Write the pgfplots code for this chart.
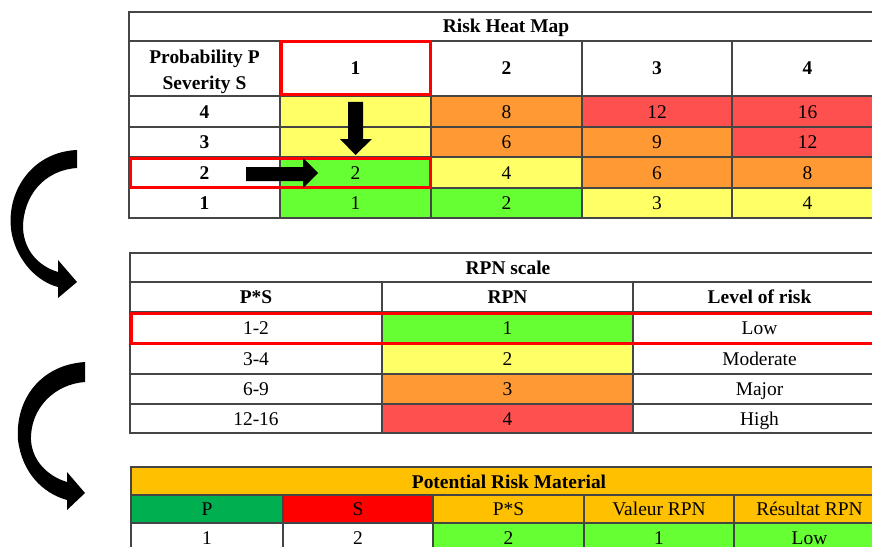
\documentclass[border=0pt]{standalone}
\usepackage{pgfplots}
\pgfplotsset{compat=1.18}
\usepackage{fontspec}
\setmainfont{Liberation Serif}
\definecolor{cG}{HTML}{66FF33}
\definecolor{cY}{HTML}{FFFF66}
\definecolor{cO}{HTML}{FF9933}
\definecolor{cR}{HTML}{FF5050}
\definecolor{gold}{HTML}{FFC000}
\definecolor{dg}{HTML}{00B050}
\definecolor{ln}{HTML}{454545}
\tikzset{
  t/.style={anchor=base,inner sep=0pt,font=\fontsize{19.5}{22}\selectfont},
  tb/.style={anchor=base,inner sep=0pt,font=\fontsize{19.5}{22}\selectfont\bfseries},
  gl/.style={draw=ln,line width=1.2bp},
  rb/.style={draw=red,line width=3bp},
}
% cell: x1 y1 x2 y2 colour
\newcommand{\cf}[5]{\fill[#5] (axis cs:#1,#2) rectangle (axis cs:#3,#4);}
% text at x, baseline y
\newcommand{\tx}[3]{\node[t] at (axis cs:#1,#2) {#3};}
\newcommand{\tb}[3]{\node[tb] at (axis cs:#1,#2) {#3};}
\begin{document}
\begin{tikzpicture}
\begin{axis}[
  width=872bp, height=547bp, scale only axis,
  xmin=0, xmax=872, ymin=0, ymax=547, y dir=reverse,
  hide axis, clip=true,
]
\path (axis cs:0,0) rectangle (axis cs:872,547);
% ================= Table 1: Risk Heat Map =================
% row 4 (96-127)
\cf{280}{96}{431}{127}{cY}
\cf{431}{96}{582}{127}{cO}
\cf{582}{96}{732}{127}{cR}
\cf{732}{96}{872}{127}{cR}
% row 3 (127-157)
\cf{280}{127}{431}{157}{cY}
\cf{431}{127}{582}{157}{cO}
\cf{582}{127}{732}{157}{cO}
\cf{732}{127}{872}{157}{cR}
% row 2 (157-188)
\cf{280}{157}{431}{188}{cG}
\cf{431}{157}{582}{188}{cY}
\cf{582}{157}{732}{188}{cO}
\cf{732}{157}{872}{188}{cO}
% row 1 (188-218)
\cf{280}{188}{431}{218}{cG}
\cf{431}{188}{582}{218}{cG}
\cf{582}{188}{732}{218}{cY}
\cf{732}{188}{872}{218}{cY}
% grid
\draw[gl] (axis cs:872,12) -- (axis cs:129,12) -- (axis cs:129,218) -- (axis cs:872,218);
\draw[gl] (axis cs:129,41) -- (axis cs:872,41);
\draw[gl] (axis cs:129,96) -- (axis cs:872,96);
\draw[gl] (axis cs:129,127) -- (axis cs:872,127);
\draw[gl] (axis cs:129,157) -- (axis cs:872,157);
\draw[gl] (axis cs:129,188) -- (axis cs:872,188);
\draw[gl] (axis cs:280,41) -- (axis cs:280,218);
\draw[gl] (axis cs:431,41) -- (axis cs:431,218);
\draw[gl] (axis cs:582,41) -- (axis cs:582,218);
\draw[gl] (axis cs:732,41) -- (axis cs:732,218);
% texts
\tb{506}{33}{Risk Heat Map}
\tb{204.5}{63.5}{Probability P}
\tb{204.5}{89.5}{Severity S}
\tb{355.5}{75}{1}
\tb{506.5}{75}{2}
\tb{657}{75}{3}
\tb{807.5}{75}{4}
\tb{204.5}{118}{4}
\tb{204.5}{148.5}{3}
\tb{204.5}{179}{2}
\tb{204.5}{209.5}{1}
\tx{506.5}{118}{8}
\tx{657}{118}{12}
\tx{807.5}{118}{16}
\tx{506.5}{148.5}{6}
\tx{657}{148.5}{9}
\tx{807.5}{148.5}{12}
\tx{355.5}{179}{2}
\tx{506.5}{179}{4}
\tx{657}{179}{6}
\tx{807.5}{179}{8}
\tx{355.5}{209.5}{1}
\tx{506.5}{209.5}{2}
\tx{657}{209.5}{3}
\tx{807.5}{209.5}{4}
% red boxes
\draw[rb] (axis cs:281,42) rectangle (axis cs:430,95);
\draw[rb] (axis cs:130,158) rectangle (axis cs:430,187);
% straight arrows
\fill[black] (axis cs:348,102) -- (axis cs:363,102) -- (axis cs:363,139) -- (axis cs:372,139)
  -- (axis cs:355.5,155) -- (axis cs:340,139) -- (axis cs:348,139) -- cycle;
\fill[black] (axis cs:246,167) -- (axis cs:303,167) -- (axis cs:303,158) -- (axis cs:318,173)
  -- (axis cs:303,188) -- (axis cs:303,181) -- (axis cs:246,181) -- cycle;
% ================= Table 2: RPN scale =================
\cf{382}{312}{633}{343}{cG}
\cf{382}{343}{633}{374}{cY}
\cf{382}{374}{633}{404}{cO}
\cf{382}{404}{633}{433}{cR}
\draw[gl] (axis cs:872,253) -- (axis cs:130,253) -- (axis cs:130,433) -- (axis cs:872,433);
\draw[gl] (axis cs:130,282) -- (axis cs:872,282);
\draw[gl] (axis cs:130,312) -- (axis cs:872,312);
\draw[gl] (axis cs:130,343) -- (axis cs:872,343);
\draw[gl] (axis cs:130,374) -- (axis cs:872,374);
\draw[gl] (axis cs:130,404) -- (axis cs:872,404);
\draw[gl] (axis cs:382,282) -- (axis cs:382,433);
\draw[gl] (axis cs:633,282) -- (axis cs:633,433);
\tb{508}{274}{RPN scale}
\tb{256}{303.5}{P*S}
\tb{507.5}{303.5}{RPN}
\tb{759.5}{303.5}{Level of risk}
\tx{256}{334}{1-2}
\tx{507.5}{334}{1}
\tx{759.5}{334}{Low}
\tx{256}{365}{3-4}
\tx{507.5}{365}{2}
\tx{759.5}{365}{Moderate}
\tx{256}{395.5}{6-9}
\tx{507.5}{395.5}{3}
\tx{759.5}{395.5}{Major}
\tx{256}{425}{12-16}
\tx{507.5}{425}{4}
\tx{759.5}{425}{High}
\draw[rb] (axis cs:880,313) -- (axis cs:131,313) -- (axis cs:131,343) -- (axis cs:880,343);
% ================= Table 3: Potential Risk Material =================
\cf{131}{467}{872}{495}{gold}
\cf{131}{495}{283}{523}{dg}
\cf{283}{495}{433}{523}{red}
\cf{433}{495}{872}{523}{gold}
\cf{433}{523}{872}{551}{cG}
\draw[gl] (axis cs:872,467) -- (axis cs:131,467) -- (axis cs:131,551);
\draw[gl] (axis cs:131,495) -- (axis cs:872,495);
\draw[gl] (axis cs:131,523) -- (axis cs:872,523);
\draw[gl] (axis cs:283,495) -- (axis cs:283,551);
\draw[gl] (axis cs:433,495) -- (axis cs:433,551);
\draw[gl] (axis cs:584,495) -- (axis cs:584,551);
\draw[gl] (axis cs:734,495) -- (axis cs:734,551);
\tb{509}{488}{Potential Risk Material}
\tx{207}{515.5}{P}
\tx{358}{515.5}{S}
\tx{508.5}{515.5}{P*S}
\tx{659}{515.5}{Valeur RPN}
\tx{809.5}{515.5}{Résultat RPN}
\tx{207}{544}{1}
\tx{358}{544}{2}
\tx{508.5}{544}{2}
\tx{659}{544}{1}
\tx{809.5}{544}{Low}
% ================= curved arrows =================
\fill[black] (axis cs:77,150) .. controls (axis cs:30,152) and (axis cs:4,195) .. (axis cs:12,235)
  .. controls (axis cs:18,262) and (axis cs:38,282) .. (axis cs:58,287)
  -- (axis cs:58,298) -- (axis cs:77,282) -- (axis cs:58,260) -- (axis cs:58,272)
  .. controls (axis cs:38,266) and (axis cs:24,250) .. (axis cs:23,228)
  .. controls (axis cs:23,195) and (axis cs:45,170) .. (axis cs:77,168) -- cycle;
\fill[black] (axis cs:85,362) .. controls (axis cs:40,365) and (axis cs:15,400) .. (axis cs:18,440)
  .. controls (axis cs:22,472) and (axis cs:42,493) .. (axis cs:67,500)
  -- (axis cs:67,510) -- (axis cs:85,493) -- (axis cs:67,472) -- (axis cs:67,482)
  .. controls (axis cs:47,476) and (axis cs:32,460) .. (axis cs:31,440)
  .. controls (axis cs:30,408) and (axis cs:55,384) .. (axis cs:85,382) -- cycle;
\end{axis}
\end{tikzpicture}
\end{document}
